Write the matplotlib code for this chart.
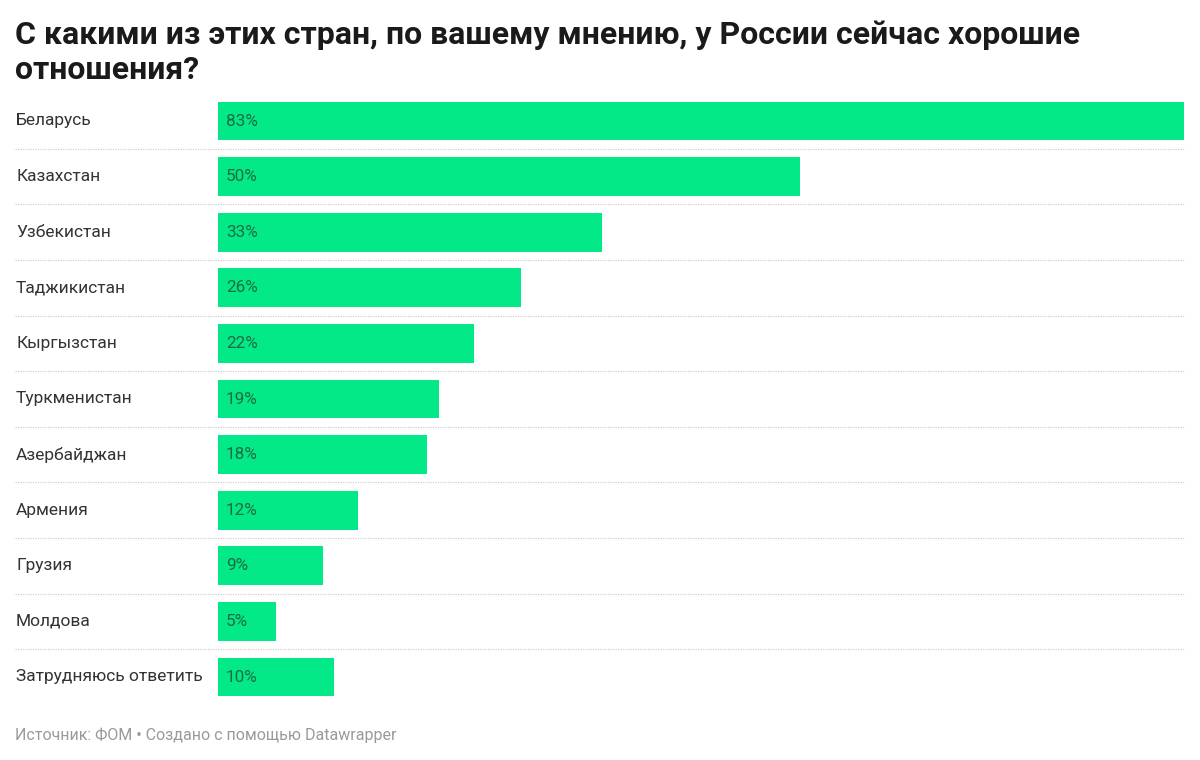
import matplotlib.pyplot as plt
from matplotlib.lines import Line2D
from matplotlib.transforms import blended_transform_factory

plt.rcParams["font.family"] = ["Roboto", "DejaVu Sans"]

countries = ["Беларусь", "Казахстан", "Узбекистан", "Таджикистан", "Кыргызстан",
             "Туркменистан", "Азербайджан", "Армения", "Грузия", "Молдова",
             "Затрудняюсь ответить"]
values = [83, 50, 33, 26, 22, 19, 18, 12, 9, 5, 10]

title = "С какими из этих стран, по вашему мнению, у России сейчас хорошие\nотношения?"
footer = "Источник: ФОМ • Создано с помощью Datawrapper"

bar_color = "#03e987"
value_color = "#1d6b44"

W, H = 1200, 760
fig = plt.figure(figsize=(W / 100, H / 100), dpi=100)
fig.patch.set_facecolor("white")

# axes box in pixels: bars from x=218 to 1184, rows centred 121..677
row = 55.6
top = 121 - row / 2
bottom = 677 + row / 2
ax = fig.add_axes([218 / W, 1 - bottom / H, (1184 - 218) / W, (bottom - top) / H])

n = len(countries)
pos = list(range(n))
ax.barh(pos, values, height=0.70, color=bar_color, edgecolor="none")
ax.set_xlim(0, max(values))
ax.set_ylim(n - 0.5, -0.5)
ax.axis("off")

tr = blended_transform_factory(fig.transFigure, ax.transData)
for i, (c, v) in enumerate(zip(countries, values)):
    ax.text(0.69, i, f"{v}%", va="center", ha="left",
            fontsize=12.3, color=value_color)
    fig.text(16 / W, i, c, transform=tr, va="center", ha="left",
             fontsize=12.5, color="#333333")

# dotted separators between rows, spanning label column too
for i in range(n - 1):
    fig.add_artist(Line2D([15 / W, 1184 / W], [i + 0.5, i + 0.5], transform=tr,
                          color="#d0d0d0", lw=0.9, linestyle=(0, (1, 1))))

fig.text(15 / W, 1 - 20 / H, title, ha="left", va="top", fontsize=23,
         fontweight="bold", color="#1a1a1a", linespacing=1.22)
fig.text(15 / W, 1 - 735 / H, footer, ha="left", va="center", fontsize=11.5,
         color="#9a9a9a")

fig.savefig("out.png", dpi=100, facecolor="white")
